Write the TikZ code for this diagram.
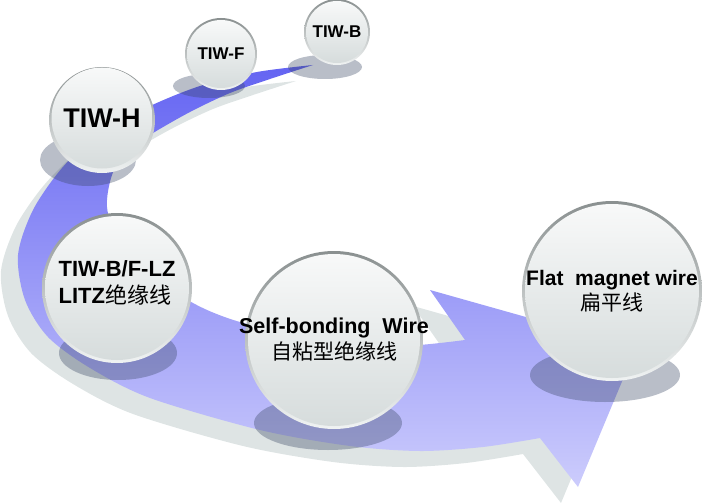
\documentclass[tikz,border=0pt]{standalone}
\usepackage{fontspec}
\setmainfont{Liberation Sans}
\newfontfamily\cjk{Noto Sans CJK SC}
\usepackage{tikz}

\definecolor{bandtop}{RGB}{100,100,242}
\definecolor{bandbot}{RGB}{204,204,252}
\definecolor{bandgray}{RGB}{222,228,228}
\definecolor{ballshadow}{RGB}{55,69,98}
\definecolor{rimtop}{RGB}{138,144,144}
\definecolor{rimbot}{RGB}{240,243,243}
\definecolor{facetop}{RGB}{248,249,249}
\definecolor{facebot}{RGB}{214,220,220}

% outline of the curved arrow
\newcommand\bandpath{plot[smooth] coordinates {(313,-65) (257,-72) (200,-86) (150,-106) (100,-132) (62,-168) (33,-210) (18,-255) (25,-300) (48,-337) (90,-368) (150,-398) (260,-430) (350,-446) (420,-451) (483,-447) (540,-438)}
  -- (578,-487) -- (636,-348) -- (430,-290) -- (465,-340)
  -- plot[smooth] coordinates {(465,-340) (400,-346) (320,-340) (240,-322) (193,-303) (150,-272) (118,-240) (107,-207) (112,-175) (127,-150) (153,-133) (190,-112) (230,-93) (270,-79) (313,-65)} -- cycle}

\begin{document}
\begin{tikzpicture}[x=1pt, y=1pt,
    rim/.style={top color=rimtop, bottom color=rimbot},
    ball/.style={circle, inner sep=-20pt, top color=facetop, bottom color=facebot, text=black},
    drop/.style={fill=ballshadow, fill opacity=0.35}]
    \useasboundingbox (0,0) rectangle (702,-503);

    \fill[bandgray, shift={(-17,-16)}] \bandpath; % grey copy under the arrow
    \shade[top color=bandtop, bottom color=bandbot] \bandpath;

    \fill[drop] (88,-160) ellipse [x radius=48, y radius=26];
    \shade[rim] (102,-120) circle [radius=53];
    \node[ball, minimum size=101pt, font=\fontsize{27}{30}\selectfont\bfseries] (tiwh) at (102,-118) {TIW-H};

    \fill[drop] (209,-86) ellipse [x radius=36, y radius=12];
    \shade[rim] (221,-54) circle [radius=36];
    \node[ball, minimum size=68pt, font=\fontsize{17}{20}\selectfont\bfseries] (tiwf) at (221,-54) {TIW-F};

    \fill[drop] (325,-67) ellipse [x radius=37, y radius=12];
    \shade[rim] (337,-32) circle [radius=33];
    \node[ball, minimum size=62pt, font=\fontsize{17}{20}\selectfont\bfseries] (tiwb) at (337,-32) {TIW-B};

    \fill[drop] (118,-353) ellipse [x radius=59, y radius=27];
    \shade[rim] (117,-288) circle [radius=75];
    \node[ball, minimum size=144pt, align=left, text depth=12pt, font=\fontsize{22}{27}\selectfont\bfseries] (litz) at (117,-288) {TIW-B/F-LZ\\LITZ{\cjk\mdseries 绝缘线}};

    \fill[drop] (328,-423) ellipse [x radius=74, y radius=27];
    \shade[rim] (334,-340) circle [radius=89];
    \node[ball, minimum size=172pt, align=center, font=\fontsize{21.5}{26}\selectfont\bfseries] (selfb) at (334,-340) {Self-bonding\ \ Wire\\{\cjk\mdseries\fontsize{21}{26}\selectfont 自粘型绝缘线}};

    \fill[drop] (605,-375) ellipse [x radius=75, y radius=27];
    \shade[rim] (612,-291) circle [radius=90];
    \node[ball, minimum size=174pt, align=center, font=\fontsize{21}{25}\selectfont\bfseries] (flat) at (612,-291) {Flat\ \ magnet wire\\{\cjk\mdseries 扁平线}};
\end{tikzpicture}
\end{document}
